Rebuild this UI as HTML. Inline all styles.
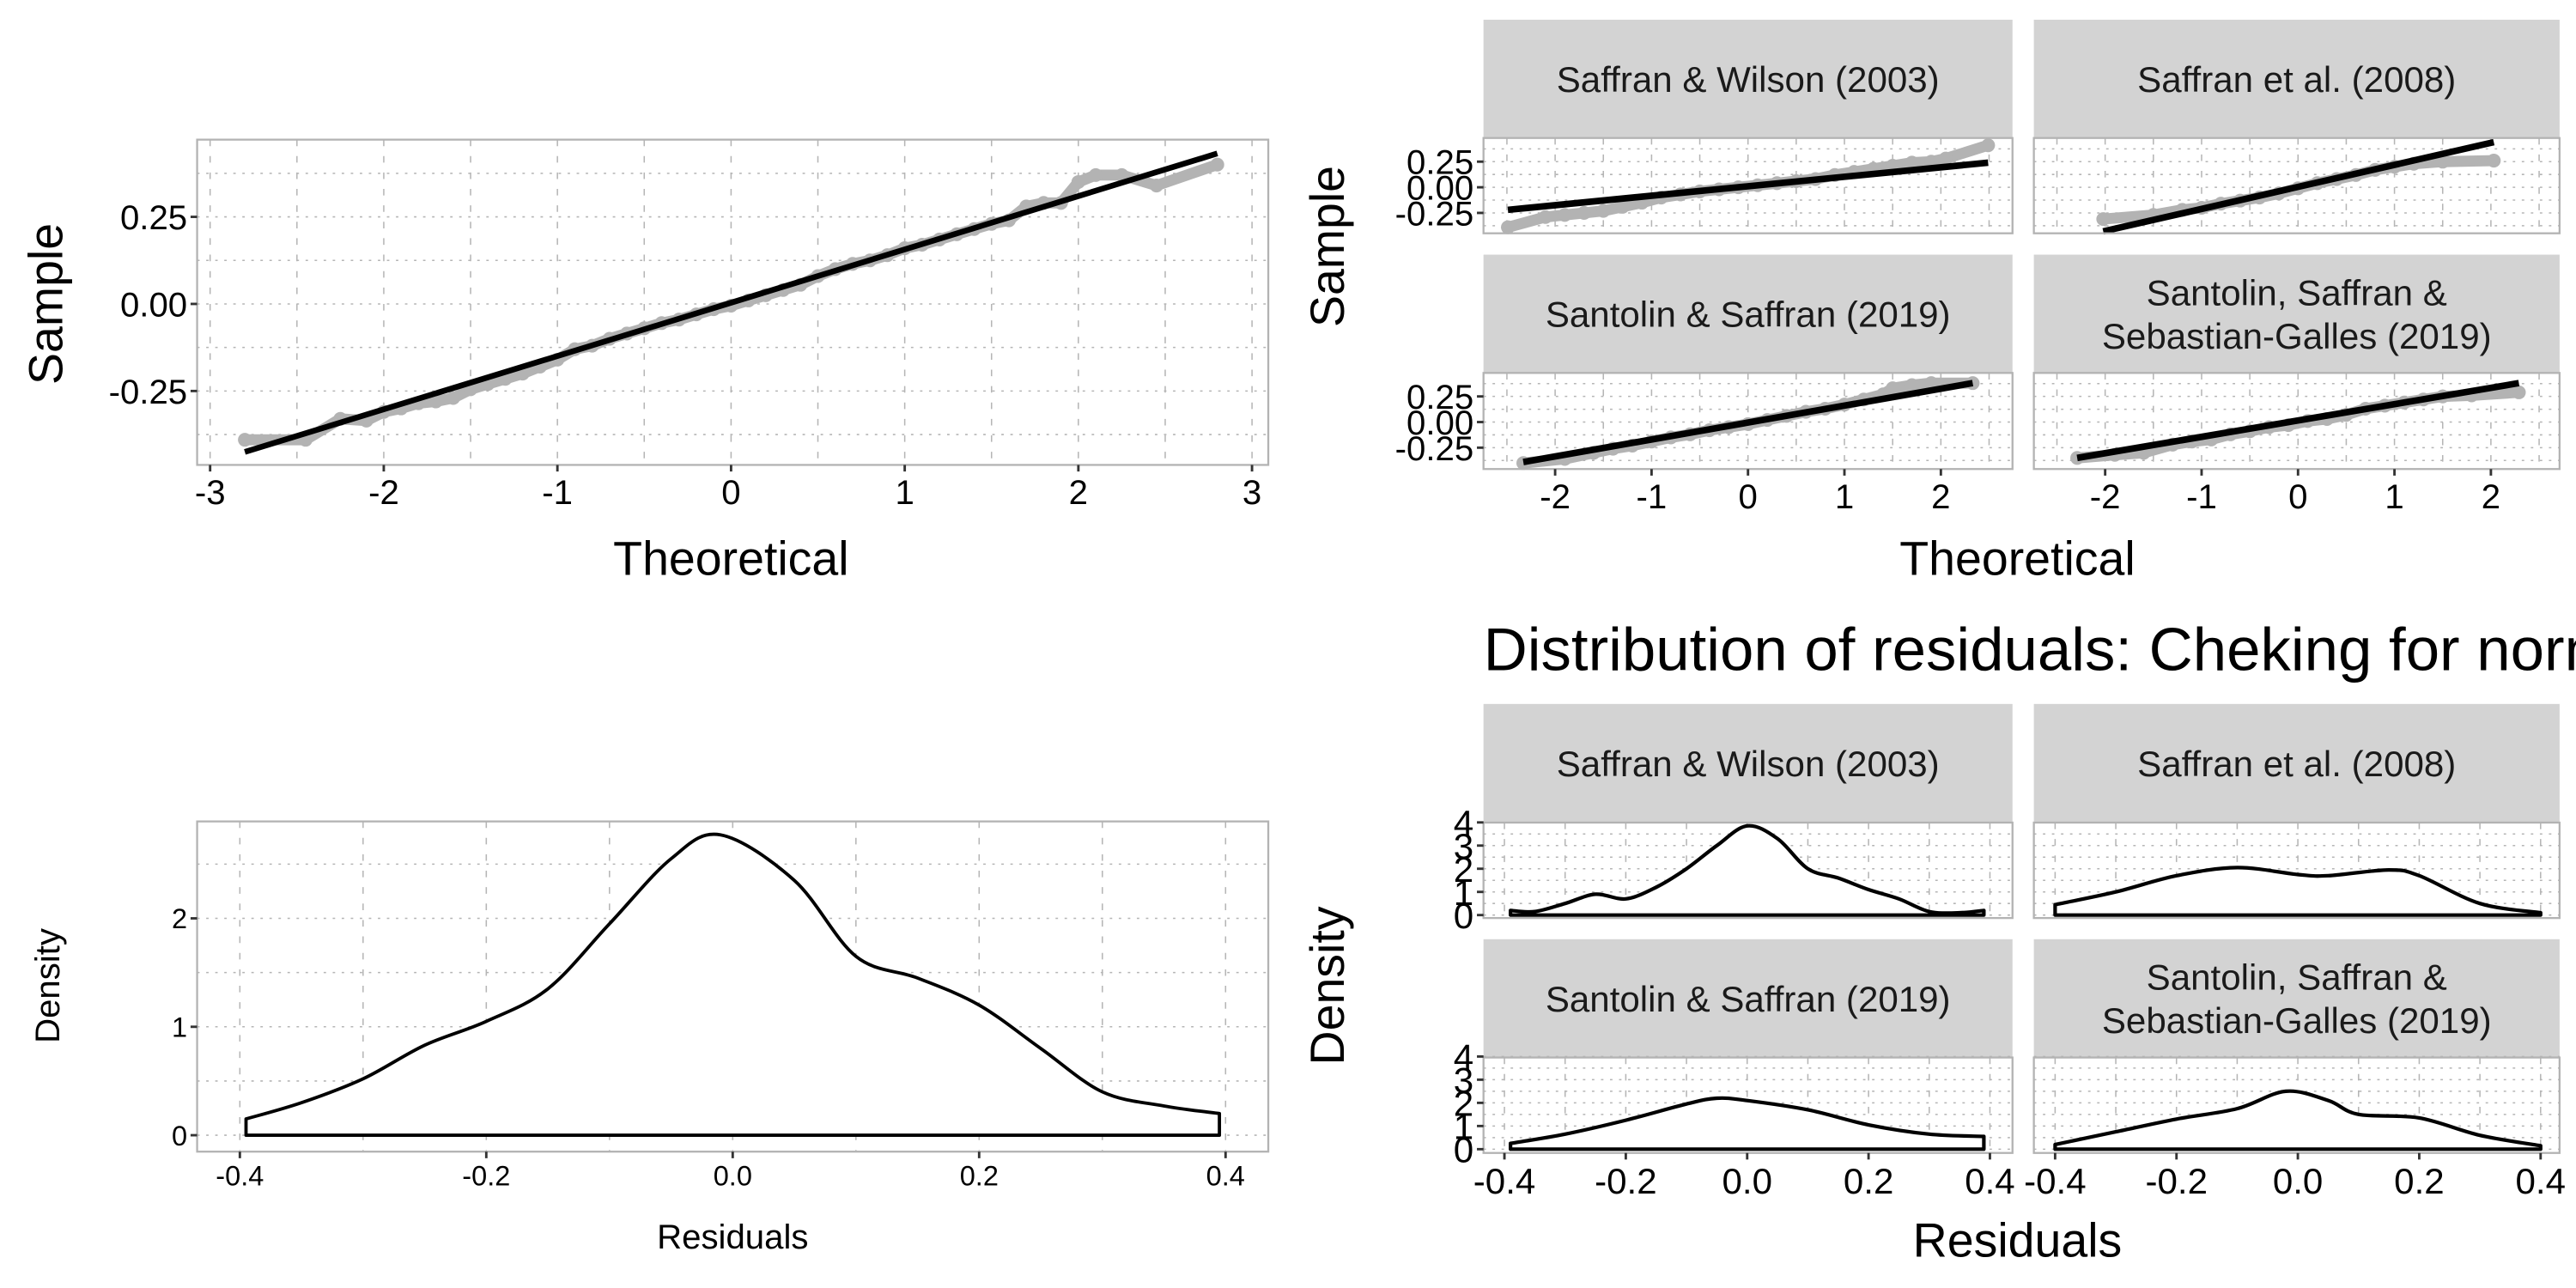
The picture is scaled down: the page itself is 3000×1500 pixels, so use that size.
<!DOCTYPE html>
<html><head><meta charset="utf-8">
<style>
html,body{margin:0;padding:0;background:#fff;}
svg{display:block;}
text{font-family:"Liberation Sans",Arial,sans-serif;}
</style></head>
<body>
<svg id="fig" xmlns="http://www.w3.org/2000/svg" width="3000" height="1500" viewBox="0 0 1568 784"></svg>
<script>
// ---- Data ----
const qqTheo = [-2.8,-2.45,-2.25,-2.1,-2.0,-1.9,-1.8,-1.7,-1.6,-1.5,-1.4,-1.3,-1.2,-1.1,-1.0,-0.9,-0.8,-0.7,-0.6,-0.5,-0.4,-0.3,-0.2,-0.1,0,0.1,0.2,0.3,0.4,0.5,0.6,0.7,0.8,0.9,1.0,1.1,1.2,1.3,1.4,1.5,1.6,1.7,1.8,1.9,2.0,2.1,2.25,2.45,2.8];
const qqSample = [-0.39,-0.39,-0.33,-0.335,-0.31,-0.30,-0.285,-0.28,-0.27,-0.245,-0.23,-0.215,-0.20,-0.18,-0.16,-0.13,-0.12,-0.10,-0.085,-0.07,-0.055,-0.045,-0.03,-0.015,-0.005,0.01,0.025,0.04,0.055,0.08,0.10,0.115,0.125,0.14,0.16,0.17,0.185,0.20,0.215,0.23,0.24,0.28,0.29,0.29,0.35,0.37,0.37,0.34,0.40];
const qqLineX = [-2.8,2.8];
const qqLineY = [-0.425,0.432];

const facetNames = ["Saffran & Wilson (2003)","Saffran et al. (2008)","Santolin & Saffran (2019)","Santolin, Saffran &|Sebastian-Galles (2019)"];
const f1Theo = [-2.49,-2.1,-1.9,-1.7,-1.5,-1.3,-1.1,-0.9,-0.7,-0.5,-0.3,-0.1,0.1,0.3,0.5,0.7,0.9,1.1,1.3,1.5,1.7,1.9,2.05,2.49];
const f1Sample = [-0.39,-0.29,-0.27,-0.25,-0.23,-0.19,-0.15,-0.10,-0.07,-0.04,-0.02,0.0,0.02,0.04,0.06,0.08,0.12,0.15,0.18,0.21,0.24,0.25,0.28,0.41];
const f1Line = [-2.49,-0.22,2.49,0.24];
const f2Theo = [-2.02,-1.5,-1.2,-1.0,-0.8,-0.6,-0.4,-0.2,0,0.2,0.4,0.6,0.8,1.0,1.2,1.5,2.03];
const f2Sample = [-0.31,-0.27,-0.22,-0.20,-0.16,-0.13,-0.10,-0.06,-0.01,0.04,0.08,0.12,0.17,0.20,0.23,0.25,0.26];
const f2Line = [-2.02,-0.43,2.03,0.44];
const f3Theo = [-2.33,-1.9,-1.6,-1.4,-1.2,-1.0,-0.8,-0.6,-0.4,-0.2,0,0.2,0.4,0.6,0.8,1.0,1.2,1.4,1.5,1.7,1.9,2.33];
const f3Sample = [-0.40,-0.36,-0.30,-0.26,-0.23,-0.19,-0.15,-0.12,-0.08,-0.05,-0.02,0.02,0.06,0.10,0.13,0.17,0.22,0.27,0.33,0.36,0.38,0.38];
const f3Line = [-2.33,-0.39,2.33,0.38];
const f4Theo = [-2.29,-1.9,-1.6,-1.3,-1.1,-0.9,-0.7,-0.5,-0.3,-0.1,0.1,0.3,0.5,0.7,0.9,1.1,1.3,1.5,1.8,2.29];
const f4Sample = [-0.35,-0.32,-0.30,-0.22,-0.19,-0.17,-0.12,-0.09,-0.05,-0.03,0.01,0.03,0.07,0.13,0.16,0.19,0.22,0.25,0.26,0.29];
const f4Line = [-2.29,-0.35,2.29,0.38];

const densX = [-0.395,-0.35,-0.3,-0.25,-0.2,-0.15,-0.1,-0.05,-0.01,0.05,0.1,0.15,0.2,0.25,0.3,0.35,0.395];
const densY = [0.15,0.3,0.52,0.83,1.05,1.35,1.95,2.55,2.77,2.35,1.65,1.45,1.2,0.8,0.4,0.27,0.2];

const d1X = [-0.39,-0.35,-0.3,-0.25,-0.2,-0.15,-0.1,-0.05,0,0.05,0.1,0.15,0.2,0.25,0.3,0.35,0.39];
const d1Y = [0.2,0.15,0.5,0.9,0.7,1.2,2.0,3.0,3.85,3.3,2.0,1.6,1.1,0.7,0.15,0.1,0.2];
const d2X = [-0.4,-0.3,-0.2,-0.1,0,0.05,0.15,0.2,0.3,0.4];
const d2Y = [0.45,1.0,1.7,2.05,1.75,1.7,1.95,1.7,0.5,0.1];
const d3X = [-0.39,-0.3,-0.2,-0.1,-0.05,0,0.1,0.2,0.3,0.39];
const d3Y = [0.25,0.65,1.25,1.95,2.2,2.1,1.7,1.05,0.65,0.55];
const d4X = [-0.4,-0.3,-0.2,-0.1,-0.02,0.05,0.1,0.2,0.3,0.4];
const d4Y = [0.2,0.75,1.3,1.75,2.5,2.1,1.5,1.35,0.6,0.15];

const qqXTicks = [-3,-2,-1,0,1,2,3];
const facetXTicks = [-2,-1,0,1,2];
const sampleTicks = [-0.25,0,0.25];
const sampleTickLabels = ["-0.25","0.00","0.25"];
const densXTicks = [-0.4,-0.2,0,0.2,0.4];
const densXTickLabels = ["-0.4","-0.2","0.0","0.2","0.4"];
const densYTicks = [0,1,2];
const facetDensYTicks = [0,1,2,3,4];

// ---- helpers ----
const NS = "http://www.w3.org/2000/svg";
const svg = document.getElementById('fig');
function mk(tag, attrs, parent){
  const e = document.createElementNS(NS, tag);
  for (const k in attrs) e.setAttribute(k, attrs[k]);
  (parent||svg).appendChild(e);
  return e;
}
function lin(d0,d1,r0,r1){ return v => r0 + (v-d0)*(r1-r0)/(d1-d0); }
function smoothPath(pts){
  let d = "M"+pts[0][0]+","+pts[0][1];
  for (let i=0;i<pts.length-1;i++){
    const p0=pts[Math.max(0,i-1)], p1=pts[i], p2=pts[i+1], p3=pts[Math.min(pts.length-1,i+2)];
    const c1=[p1[0]+(p2[0]-p0[0])/6, p1[1]+(p2[1]-p0[1])/6];
    const c2=[p2[0]-(p3[0]-p1[0])/6, p2[1]-(p3[1]-p1[1])/6];
    d += " C"+c1[0]+","+c1[1]+" "+c2[0]+","+c2[1]+" "+p2[0]+","+p2[1];
  }
  return d;
}
function panel(name, x0,y0,x1,y1, sx, sy, xgrid, ygrid){
  const g = mk('g',{});
  
  
  const r = mk('rect',{x:x0,y:y0,width:x1-x0,height:y1-y0,fill:'#fff'},g);
  
  
  xgrid.forEach(v=>{ const X=sx(v); mk('line',{x1:X,x2:X,y1:y0,y2:y1,stroke:'#b5b5b5','stroke-width':0.8,'stroke-dasharray':'4 6'},g); });
  ygrid.forEach(v=>{ const Y=sy(v); mk('line',{x1:x0,x2:x1,y1:Y,y2:Y,stroke:'#b5b5b5','stroke-width':0.8,'stroke-dasharray':'1.5 4'},g); });
  return g;
}
function border(x0,y0,x1,y1){ mk('rect',{x:x0,y:y0,width:x1-x0,height:y1-y0,fill:'none',stroke:'#b3b3b3','stroke-width':1.2}); }
function yTicks(x, ticks, labels, sy, fs){
  ticks.forEach((v,i)=>{
    const Y=sy(v);
    mk('line',{x1:x-4,x2:x,y1:Y,y2:Y,stroke:'#333','stroke-width':1.5});
    const t=mk('text',{x:x-6,y:Y+fs*0.36,'font-size':fs,'text-anchor':'end',fill:'#000'});
    t.textContent=labels[i];
    
    
  });
}
function xTicks(y, ticks, labels, sx, fs){
  ticks.forEach((v,i)=>{
    const X=sx(v);
    mk('line',{x1:X,x2:X,y1:y,y2:y+4,stroke:'#333','stroke-width':1.5});
    const t=mk('text',{x:X,y:y+6+fs*0.85,'font-size':fs,'text-anchor':'middle',fill:'#000'});
    t.textContent=labels[i];
    
    
  });
}
function label(txt,x,y,fs,rot,name){
  const t=mk('text',{x:x,y:y,'font-size':fs,'text-anchor':'middle',fill:'#000'});
  if(rot) t.setAttribute('transform','rotate(-90 '+x+' '+y+')');
  t.textContent=txt;
  
  
}
function strip(x0,y0,x1,y1,txt,fs,name){
  const r=mk('rect',{x:x0,y:y0,width:x1-x0,height:y1-y0,fill:'#d3d3d3'});
  
  
  const lines=txt.split('|'); const cy=(y0+y1)/2; const lh=fs*1.2;
  lines.forEach((l,i)=>{
    const t=mk('text',{x:(x0+x1)/2,y:cy+(i-(lines.length-1)/2)*lh+fs*0.36,'font-size':fs,'text-anchor':'middle',fill:'#1a1a1a'});
    t.textContent=l;
    
    
  });
}
function qqMarks(g, T, S, L, sx, sy, r, lw){
  const pts=T.map((t,i)=>[sx(t),sy(S[i])]);
  const band=mk('polyline',{points:pts.map(p=>p.join(',')).join(' '),fill:'none',stroke:'#b3b3b3','stroke-width':r*1.6,'stroke-linejoin':'round','stroke-linecap':'round'},g);
  
  
  pts.forEach(p=>{
    const c=mk('circle',{cx:p[0],cy:p[1],r:r,fill:'#b3b3b3'},g);
    
    
  });
  const ln=mk('line',{x1:sx(L[0]),y1:sy(L[1]),x2:sx(L[2]),y2:sy(L[3]),stroke:'#000','stroke-width':lw},g);
  
  
}
function densMarks(g, X, Y, sx, sy, lw){
  const pts=X.map((x,i)=>[sx(x),sy(Y[i])]);
  const base=sy(0);
  let d=smoothPath(pts);
  d += " L"+pts[pts.length-1][0]+","+base+" L"+pts[0][0]+","+base+" Z";
  const p=mk('path',{d:d,fill:'#fff',stroke:'#000','stroke-width':lw,'stroke-linejoin':'round'},g);
  
  
}
function range(a,b,s){ const r=[]; for(let v=a; v<=b+1e-9; v+=s) r.push(+v.toFixed(4)); return r; }

// ---- Panel A: overall QQ ----
{
  const x0=120,y0=85,x1=772,y1=283;
  const sx=lin(0,1,445,445+105.7), sy=lin(0,1,185,185-212);
  const g=panel('qq-overall-panel',x0,y0,x1,y1,sx,sy,range(-3,3,0.5),[-0.375,-0.25,-0.125,0,0.125,0.25,0.375]);
  qqMarks(g,qqTheo,qqSample,[qqLineX[0],qqLineY[0],qqLineX[1],qqLineY[1]],sx,sy,4.2,3.5);
  border(x0,y0,x1,y1);
  yTicks(x0,sampleTicks,sampleTickLabels,sy,21);
  xTicks(y1,qqXTicks,qqXTicks.map(String),sx,21);
  label('Sample',38,185,29,true,'y-axis-title-sample');
  label('Theoretical',445,350,29,false,'x-axis-title-theoretical');
}
// ---- Panel B: overall density ----
{
  const x0=120,y0=500,x1=772,y1=701;
  const sx=lin(0,1,446,446+750), sy=lin(0,1,691,691-66);
  const g=panel('density-overall-panel',x0,y0,x1,y1,sx,sy,range(-0.4,0.4,0.1),[0,0.5,1,1.5,2,2.5]);
  densMarks(g,densX,densY,sx,sy,2);
  border(x0,y0,x1,y1);
  yTicks(x0,densYTicks,densYTicks.map(String),sy,17);
  xTicks(y1,densXTicks,densXTickLabels,sx,17);
  label('Density',36,600,21,true,'y-axis-title-density');
  label('Residuals',446,760,21,false,'x-axis-title-residuals');
}
// ---- Panel C: faceted QQ ----
{
  const cols=[[903,1225,1064],[1238,1558,1398.8]];
  const rows=[{s0:12,s1:84,p0:84,p1:142,z:114},{s0:155,s1:227,p0:227,p1:285.5,z:256.9}];
  const data=[[f1Theo,f1Sample,f1Line],[f2Theo,f2Sample,f2Line],[f3Theo,f3Sample,f3Line],[f4Theo,f4Sample,f4Line]];
  for(let i=0;i<4;i++){
    const c=cols[i%2], r=rows[Math.floor(i/2)];
    const sx=lin(0,1,c[2],c[2]+58.7), sy=lin(0,1,r.z,r.z-62.4);
    strip(c[0],r.s0,c[1],r.s1,facetNames[i],22,'qq-facet-strip-'+(i+1));
    const g=panel('qq-facet-panel-'+(i+1),c[0],r.p0,c[1],r.p1,sx,sy,range(-2.5,2.5,0.5),[-0.375,-0.25,-0.125,0,0.125,0.25,0.375]);
    qqMarks(g,data[i][0],data[i][1],data[i][2],sx,sy,4.2,4);
    border(c[0],r.p0,c[1],r.p1);
    if(i%2===0) yTicks(c[0],sampleTicks,sampleTickLabels,sy,21);
    if(i>=2) xTicks(r.p1,facetXTicks,facetXTicks.map(String),sx,21);
  }
  label('Sample',818,150,29,true,'y-axis-title-sample-facets');
  label('Theoretical',1228,350,29,false,'x-axis-title-theoretical-facets');
}
// ---- Panel D: faceted density ----
{
  const t=mk('text',{x:903,y:408,'font-size':37,fill:'#000'});
  t.textContent='Distribution of residuals: Cheking for normality';
  
  
  const cols=[[903,1225,1063.5],[1238,1558,1398.7]];
  const rows=[{s0:428.5,s1:500.7,p0:500.7,p1:558.8,z:557},{s0:571.7,s1:643.7,p0:643.7,p1:701.8,z:699.5}];
  const data=[[d1X,d1Y],[d2X,d2Y],[d3X,d3Y],[d4X,d4Y]];
  for(let i=0;i<4;i++){
    const c=cols[i%2], r=rows[Math.floor(i/2)];
    const sx=lin(0,1,c[2],c[2]+369.4), sy=lin(0,1,r.z,r.z-14.1);
    strip(c[0],r.s0,c[1],r.s1,facetNames[i],22,'density-facet-strip-'+(i+1));
    const g=panel('density-facet-panel-'+(i+1),c[0],r.p0,c[1],r.p1,sx,sy,range(-0.4,0.4,0.1),range(0,4,0.5));
    densMarks(g,data[i][0],data[i][1],sx,sy,2.2);
    border(c[0],r.p0,c[1],r.p1);
    if(i%2===0) yTicks(c[0],facetDensYTicks,facetDensYTicks.map(String),sy,22);
    if(i>=2) xTicks(r.p1,densXTicks,densXTickLabels,sx,22);
  }
  label('Density',818,600,29,true,'y-axis-title-density-facets');
  label('Residuals',1228,765,29,false,'x-axis-title-residuals-facets');
}
</script>
</body></html>
